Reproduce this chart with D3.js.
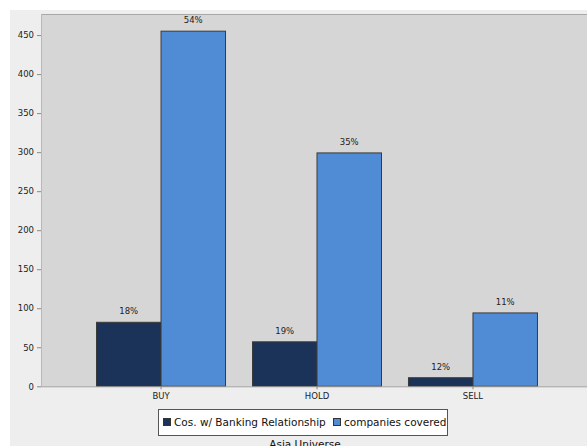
<!DOCTYPE html>
<html>
<head>
<meta charset="utf-8">
<script src="https://cdn.jsdelivr.net/npm/d3@7"></script>
<style>
  html, body { margin: 0; padding: 0; background: #ffffff; }
  svg { display: block; }
  text { font-family: "DejaVu Sans", sans-serif; }
</style>
</head>
<body>
<svg id="chart" width="587" height="446"></svg>
<script>
// Rating distribution: covered companies and those with a banking relationship
const categories = ["BUY", "HOLD", "SELL"];
const seriesNames = ["Cos. w/ Banking Relationship", "companies covered"];
const bankingValues = [82, 57, 11];
const coveredValues = [455, 299, 94];
const bankingLabels = ["18%", "19%", "12%"];
const coveredLabels = ["54%", "35%", "11%"];
const yTicks = [0, 50, 100, 150, 200, 250, 300, 350, 400, 450];
const axisTitle = "Asia Universe";

const colors = ["#1b3359", "#508cd6"];

const svg = d3.select("#chart");
const W = 587, H = 446;

// outer panel
svg.append("rect").attr("x", 10).attr("y", 10).attr("width", W - 10).attr("height", H - 10)
  .attr("fill", "#eeeeee");

const plot = { left: 41, top: 14, right: 587, bottom: 386.3 };

const y = d3.scaleLinear().domain([0, 477]).range([plot.bottom, plot.top]);
const x0 = d3.scaleBand().domain(categories)
  .range([plot.left, plot.left + 552]).paddingInner(0.173).paddingOuter(0.356);
const x1 = d3.scaleBand().domain(seriesNames).range([0, x0.bandwidth()]);

// plot background
svg.append("rect").attr("x", plot.left).attr("y", plot.top)
  .attr("width", plot.right - plot.left).attr("height", plot.bottom - plot.top)
  .attr("fill", "#d6d6d6");
svg.append("line").attr("x1", plot.left).attr("x2", plot.right)
  .attr("y1", plot.top + 0.5).attr("y2", plot.top + 0.5)
  .attr("stroke", "#a8a8a8").attr("stroke-width", 1);
svg.append("line").attr("x1", plot.left + 0.5).attr("x2", plot.left + 0.5)
  .attr("y1", plot.top).attr("y2", plot.bottom)
  .attr("stroke", "#b8b8b8").attr("stroke-width", 1);

const rows = categories.map((c, i) => ({
  cat: c,
  items: [
    { s: seriesNames[0], v: bankingValues[i], label: bankingLabels[i], color: colors[0] },
    { s: seriesNames[1], v: coveredValues[i], label: coveredLabels[i], color: colors[1] }
  ]
}));

const g = svg.append("g");
const groups = g.selectAll("g.cat").data(rows).join("g")
  .attr("transform", d => `translate(${x0(d.cat)},0)`);

groups.selectAll("rect").data(d => d.items).join("rect")
  .attr("x", d => x1(d.s))
  .attr("y", d => y(d.v))
  .attr("width", x1.bandwidth())
  .attr("height", d => y(0) - y(d.v))
  .attr("fill", d => d.color)
  .attr("stroke", "#3a3a3a")
  .attr("stroke-width", 1);

groups.selectAll("text.val").data(d => d.items).join("text")
  .attr("class", "val")
  .attr("x", d => x1(d.s) + x1.bandwidth() / 2)
  .attr("y", d => y(d.v) - 8)
  .attr("text-anchor", "middle")
  .attr("font-size", 8.5)
  .attr("fill", "#222")
  .text(d => d.label);

// y axis
const yAxis = d3.axisLeft(y).tickValues(yTicks).tickSize(4).tickPadding(3);
const ya = svg.append("g").attr("transform", `translate(${plot.left},0)`).call(yAxis);
ya.select(".domain").remove();
ya.selectAll(".tick line").attr("stroke", "#888");
ya.selectAll(".tick text").attr("font-size", 8.5).attr("fill", "#222")
  .attr("font-family", "DejaVu Sans, sans-serif");

// x axis
const xAxis = d3.axisBottom(x0).tickSize(3).tickPadding(4).tickSizeOuter(0);
const xa = svg.append("g").attr("transform", `translate(0,${plot.bottom})`).call(xAxis);
xa.select(".domain").attr("d", `M${plot.left},0.5H${plot.right}`).attr("stroke", "#a0a0a0");
xa.selectAll(".tick line").attr("stroke", "#888");
xa.selectAll(".tick text").attr("font-size", 8.5).attr("fill", "#222")
  .attr("font-family", "DejaVu Sans, sans-serif");

// legend
const leg = svg.append("g");
leg.append("rect").attr("x", 158.5).attr("y", 409.5).attr("width", 289).attr("height", 26)
  .attr("fill", "#ffffff").attr("stroke", "#555").attr("stroke-width", 1);
const legItems = [
  { name: seriesNames[0], color: colors[0], x: 163 },
  { name: seriesNames[1], color: colors[1], x: 333 }
];
legItems.forEach(it => {
  leg.append("rect").attr("x", it.x + 0.5).attr("y", 418.5).attr("width", 7).attr("height", 7)
    .attr("fill", it.color).attr("stroke", "#333").attr("stroke-width", 1);
  leg.append("text").attr("x", it.x + 11).attr("y", 426)
    .attr("font-size", 10.5).attr("fill", "#111").text(it.name);
});

svg.append("text").attr("x", 305).attr("y", 448)
  .attr("text-anchor", "middle").attr("font-size", 10.5).attr("fill", "#111")
  .text(axisTitle);
</script>
</body>
</html>
